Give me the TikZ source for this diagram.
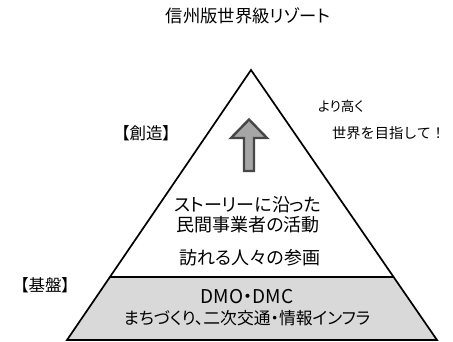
\documentclass[tikz,border=0pt]{standalone}
\usepackage{fontspec}
\newfontfamily\jp[RawFeature=+palt]{Noto Sans CJK JP}
\newfontfamily\jpm{Noto Sans CJK JP}
\usetikzlibrary{calc}
\begin{document}
\begin{tikzpicture}[x=1pt,y=-1pt,
  txt/.style={font=\jp\fontsize{18}{20}\selectfont, inner sep=0pt},
  edge/.style={line width=1.7pt, line join=miter}]
\useasboundingbox (0,0) rectangle (453,342);
\fill[white] (0,0) rectangle (453,342);
\coordinate (A) at (251,70);
\coordinate (BL) at (67,340);
\coordinate (BR) at (437,340);
\coordinate (DL) at (110,277);
\coordinate (DR) at (393.6,277);
\fill[gray!30] (DL) -- (DR) -- (BR) -- (BL) -- cycle;
\draw[edge] (DL) -- (DR);
\draw[edge] (A) -- (BR) -- (BL) -- cycle;
% arrow
\draw[line width=2.4pt, draw=black!72, fill=black!35, line join=miter]
  (244,171) -- (244,138) -- (231,138) -- (249,119.5) -- (267,138) -- (254,138) -- (254,171) -- cycle;
\node[txt, font=\jp\fontsize{17.3}{18}\selectfont] (title) at (248,16) {信州版世界級リゾート};
\node[txt, font=\jp\fontsize{16.5}{18}\selectfont] (sozo) at (146,133) {【創造】};
\node[txt, font=\jp\fontsize{16.5}{18}\selectfont] (kiban) at (45,285) {【基盤】};
\node[txt, font=\jp\fontsize{13.5}{15}\selectfont, anchor=west] (yori) at (318,106) {より高く};
\node[txt, font=\jpm\fontsize{14.2}{15}\selectfont, anchor=west] (sekai) at (332,133) {世界を目指して！};
\node[txt] (l1) at (248,205) {ストーリーに沿った};
\node[txt] (l2) at (248,225) {民間事業者の活動};
\node[txt] (l3) at (250,258) {訪れる人々の参画};
\node[txt, font=\jp\fontsize{19}{20}\selectfont] (l4) at (247,297) {DMO・DMC};
\node[txt, font=\jp\fontsize{16.8}{20}\selectfont] (l5) at (247,318) {まちづくり、二次交通・情報インフラ};
\end{tikzpicture}
\end{document}
